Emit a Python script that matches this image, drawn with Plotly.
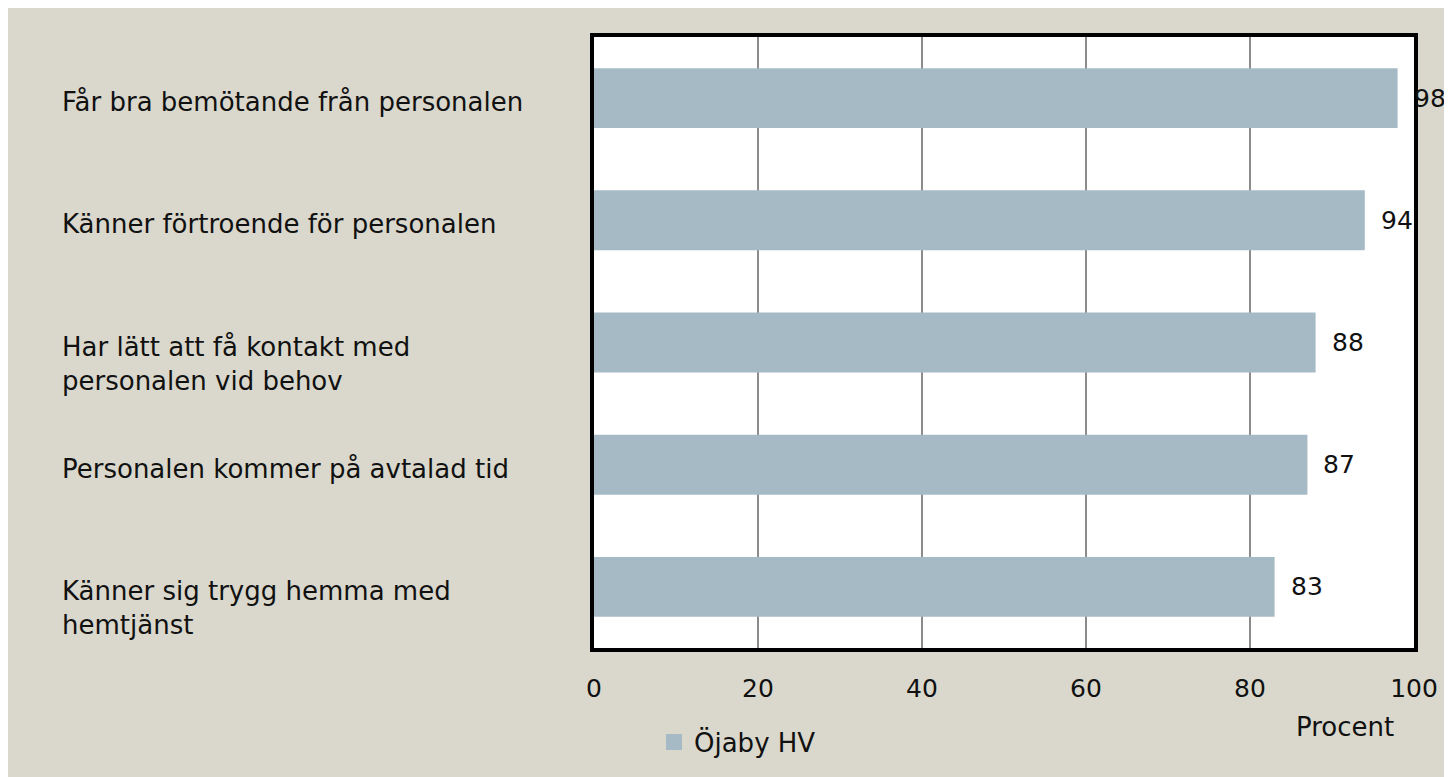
import plotly.graph_objects as go

categories = [
    "Får bra bemötande från personalen",
    "Känner förtroende för personalen",
    "Har lätt att få kontakt med<br>personalen vid behov",
    "Personalen kommer på avtalad tid",
    "Känner sig trygg hemma med<br>hemtjänst",
]
values = [98, 94, 88, 87, 83]
series_name = "Öjaby HV"
x_ticks = [0, 20, 40, 60, 80, 100]
x_title = "Procent"

BG = "#dad8cc"
BAR = "#a6bac6"
FONT = "'DejaVu Sans', sans-serif"
FS = 26
FS_NUM = 25
TXT = "#111111"

# page offset of the body margin (8px), pixel geometry in figure coordinates
W_PAGE, H_PAGE = 1452, 777
OFF = 8
ML, MR, MT, MB = 594 - OFF, 1452 - (1414 - OFF), 37 - OFF, 777 - (648 - OFF)
PW = W_PAGE - ML - MR
PH = H_PAGE - MT - MB

def px_x(px):
    return (px - OFF - ML) / PW

def px_y(py):
    return (H_PAGE - MB - (py - OFF)) / PH

fig = go.Figure()
fig.add_trace(go.Bar(
    y=categories,
    x=values,
    orientation="h",
    marker=dict(color=BAR, line=dict(width=0)),
    width=0.49,
    name=series_name,
    showlegend=False,
))
# legend entry with a larger square swatch
fig.add_trace(go.Scatter(
    x=[None], y=[None], mode="markers", name=series_name,
    marker=dict(symbol="square", size=17, color=BAR),
    showlegend=True, hoverinfo="skip",
))

annotations = []
for c, v in zip(categories, values):
    annotations.append(dict(
        x=px_x(60), xref="paper", y=c, yref="y",
        xanchor="left", yanchor="top", yshift=13,
        text=c, showarrow=False, align="left",
        font=dict(family=FONT, size=FS, color=TXT),
    ))
    annotations.append(dict(
        x=v, xref="x", y=c, yref="y",
        xanchor="left", xshift=14, yanchor="middle",
        text=str(v), showarrow=False,
        font=dict(family=FONT, size=FS_NUM, color=TXT),
    ))
annotations.append(dict(
    x=px_x(1345), xref="paper", y=px_y(727), yref="paper",
    xanchor="center", yanchor="middle", text=x_title, showarrow=False,
    font=dict(family=FONT, size=FS, color=TXT),
))

fig.update_layout(
    width=W_PAGE, height=H_PAGE,
    margin=dict(l=ML, r=MR, t=MT, b=MB),
    paper_bgcolor=BG,
    plot_bgcolor="white",
    font=dict(family=FONT, size=FS, color=TXT),
    annotations=annotations,
    legend=dict(
        orientation="h", x=px_x(654), y=px_y(742), xanchor="left", yanchor="middle",
        bgcolor="rgba(0,0,0,0)", font=dict(family=FONT, size=FS, color=TXT),
        itemsizing="trace",
    ),
    xaxis=dict(
        range=[0, 100], tickvals=x_ticks, ticktext=[str(t) for t in x_ticks],
        showgrid=True, gridcolor="#8c8c8c", gridwidth=2,
        zeroline=False, showline=True, linecolor="black", linewidth=4, mirror=True,
        ticks="", ticklabelstandoff=15,
        tickfont=dict(family=FONT, size=FS_NUM, color=TXT),
    ),
    yaxis=dict(
        categoryorder="array", categoryarray=categories[::-1],
        showticklabels=False, showgrid=False, zeroline=False,
        showline=True, linecolor="black", linewidth=4, mirror=True,
        ticks="",
    ),
)

fig.write_html("out.html")
